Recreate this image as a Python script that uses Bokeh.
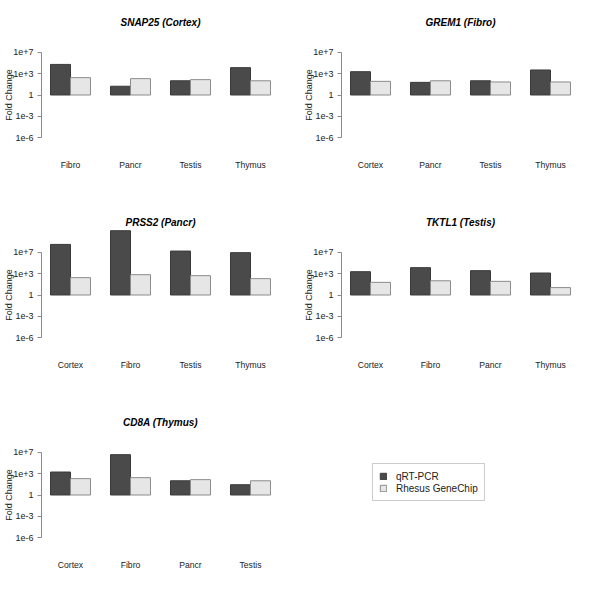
from bokeh.plotting import figure
from bokeh.layouts import column, row
from bokeh.models import (FactorRange, Range1d, FixedTicker, ColumnDataSource,
                          Legend, LegendItem)
from bokeh.transform import dodge
from bokeh.embed import file_html
from bokeh.resources import INLINE

# ---------------- data ----------------
snap25_tissues = ["Fibro", "Pancr", "Testis", "Thymus"]
snap25_qrt = [2.0e4, 17, 100, 7.0e3]
snap25_chip = [275, 200, 145, 100]

grem1_tissues = ["Cortex", "Pancr", "Testis", "Thymus"]
grem1_qrt = [1900, 60, 100, 3300]
grem1_chip = [83, 100, 68, 68]

prss2_tissues = ["Cortex", "Fibro", "Testis", "Thymus"]
prss2_qrt = [1.3e7, 1.1e9, 1.5e6, 9.0e5]
prss2_chip = [275, 720, 525, 200]

tktl1_tissues = ["Cortex", "Fibro", "Pancr", "Thymus"]
tktl1_qrt = [1900, 7000, 2650, 1240]
tktl1_chip = [60, 100, 83, 11]

cd8a_tissues = ["Cortex", "Fibro", "Pancr", "Testis"]
cd8a_qrt = [1700, 4.7e5, 100, 28]
cd8a_chip = [200, 275, 145, 100]

titles = ["SNAP25 (Cortex)", "GREM1 (Fibro)", "PRSS2 (Pancr)",
          "TKTL1 (Testis)", "CD8A (Thymus)"]
series_names = ["qRT-PCR", "Rhesus GeneChip"]
y_ticks = [1e-6, 1e-3, 1, 1e3, 1e6]
y_tick_labels = ["1e-6", "1e-3", "1", "1e+3", "1e+7"]

# ---------------- style ----------------
FONT = "Liberation Sans"
DARK = "#4a4a4a"
DARK_LINE = "#3a3a3a"
LIGHT = "#e6e6e6"
LIGHT_LINE = "#8c8c8c"
AXIS_COL = "#8a8a8a"
TEXT_COL = "#222222"
FRAME_W = 238
FRAME_H = 131
LEFT = 41
TOP = 29
LOG_HALF = 9.21


def add_bars(p, src, xr, visible=True):
    r1 = p.vbar(x=dodge("tissue", -0.25, range=xr), top="qrt", bottom="base",
                width=0.5, source=src, fill_color=DARK, line_color=DARK_LINE,
                line_width=1, visible=visible)
    r2 = p.vbar(x=dodge("tissue", 0.25, range=xr), top="chip", bottom="base",
                width=0.5, source=src, fill_color=LIGHT, line_color=LIGHT_LINE,
                line_width=1, visible=visible)
    return r1, r2


def make_panel(title, tissues, qrt, chip, w, h):
    xr = FactorRange(factors=tissues, factor_padding=0.5,
                     range_padding=0.45 / 5.5)
    yr = Range1d(10 ** -LOG_HALF, 10 ** LOG_HALF)
    p = figure(width=w, height=h, x_range=xr, y_range=yr, y_axis_type="log",
               output_backend="svg", toolbar_location=None,
               min_border_left=LEFT, min_border_right=w - LEFT - FRAME_W,
               min_border_top=TOP, min_border_bottom=h - TOP - FRAME_H)
    p.title.text = title
    p.title.align = "center"
    p.title.text_font = FONT
    p.title.text_font_size = "10px"
    p.title.text_font_style = "bold italic"
    p.title.text_color = "#000000"
    p.title.standoff = 3
    p.outline_line_color = None
    p.xgrid.visible = False
    p.ygrid.visible = False
    p.background_fill_color = "white"
    p.border_fill_color = "white"

    src = ColumnDataSource(dict(tissue=tissues, qrt=qrt, chip=chip,
                                base=[1] * len(tissues)))
    add_bars(p, src, xr)

    ya = p.yaxis[0]
    ya.ticker = FixedTicker(ticks=y_ticks, minor_ticks=[])
    ya.major_label_overrides = {t: l for t, l in zip(y_ticks, y_tick_labels)}
    ya.bounds = (y_ticks[0], y_ticks[-1])
    ya.axis_line_color = AXIS_COL
    ya.major_tick_line_color = AXIS_COL
    ya.minor_tick_line_color = None
    ya.major_tick_out = 4
    ya.major_tick_in = 0
    ya.major_label_standoff = 4
    ya.major_label_text_font = FONT
    ya.major_label_text_font_size = "9px"
    ya.major_label_text_color = TEXT_COL
    ya.axis_label = "Fold Change"
    ya.axis_label_text_font = FONT
    ya.axis_label_text_font_size = "9px"
    ya.axis_label_text_font_style = "normal"
    ya.axis_label_text_color = TEXT_COL
    ya.axis_label_standoff = -4

    xa = p.xaxis[0]
    xa.axis_line_color = None
    xa.major_tick_line_color = None
    xa.minor_tick_line_color = None
    xa.major_tick_out = 0
    xa.major_tick_in = 0
    xa.major_label_standoff = -1
    xa.major_label_text_font = FONT
    xa.major_label_text_font_size = "8.6px"
    xa.major_label_text_color = TEXT_COL
    return p, src


p1, _ = make_panel(titles[0], snap25_tissues, snap25_qrt, snap25_chip, 300, 200)
p2, _ = make_panel(titles[1], grem1_tissues, grem1_qrt, grem1_chip, 284, 200)
p3, _ = make_panel(titles[2], prss2_tissues, prss2_qrt, prss2_chip, 300, 200)
p4, _ = make_panel(titles[3], tktl1_tissues, tktl1_qrt, tktl1_chip, 284, 200)
p5, src5 = make_panel(titles[4], cd8a_tissues, cd8a_qrt, cd8a_chip, 300, 184)

# legend-only panel (hidden copies of the bar renderers supply the swatches)
p6 = figure(width=284, height=184, x_range=p5.x_range, y_range=p5.y_range,
            y_axis_type="log", x_axis_location=None, y_axis_location=None,
            output_backend="svg", toolbar_location=None,
            min_border_left=0, min_border_right=0, min_border_top=0,
            min_border_bottom=0)
p6.grid.visible = False
p6.outline_line_color = None
p6.background_fill_color = "white"
p6.border_fill_color = "white"
h1, h2 = add_bars(p6, src5, p5.x_range, visible=False)

legend = Legend(items=[LegendItem(label=series_names[0], renderers=[h1]),
                       LegendItem(label=series_names[1], renderers=[h2])],
                location=(72, 59))
legend.label_text_font = FONT
legend.label_text_font_size = "10px"
legend.label_text_color = TEXT_COL
legend.glyph_width = 8
legend.glyph_height = 8
legend.label_height = 12
legend.label_standoff = 9
legend.spacing = 0
legend.padding = 6
legend.margin = 0
legend.inactive_fill_alpha = 0
legend.click_policy = "none"
legend.border_line_color = "#999999"
legend.border_line_width = 1
legend.background_fill_color = "white"
p6.add_layout(legend, "center")

layout = column(row(p1, p2), row(p3, p4), row(p5, p6))

open("out.html", "w").write(file_html(layout, INLINE))
